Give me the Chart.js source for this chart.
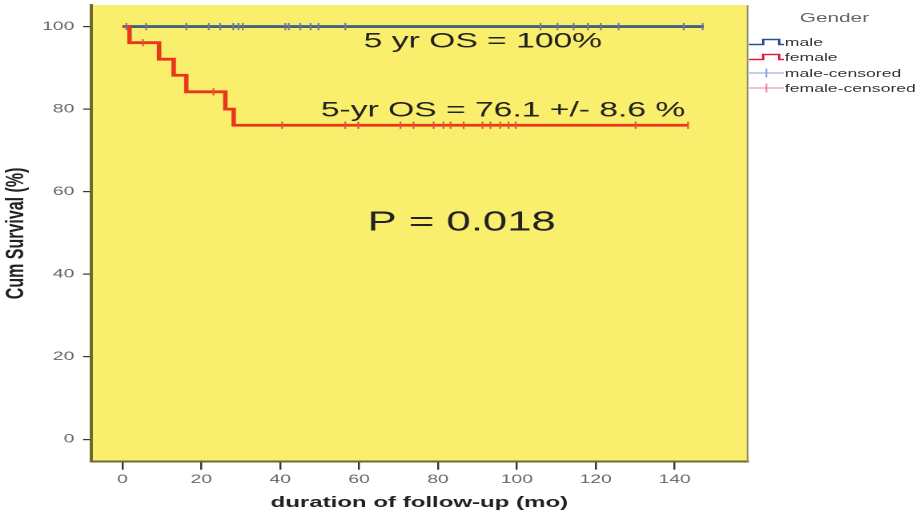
<!DOCTYPE html>
<html><head><meta charset="utf-8">
<script src="https://cdn.jsdelivr.net/npm/chart.js@4.4.1/dist/chart.umd.min.js"></script>
<style>
html,body{margin:0;padding:0;background:#fff;overflow:hidden;width:921px;height:519px}
#wrap{position:absolute;left:0;top:0;width:575.625px;height:519px;transform:scaleX(1.6);transform-origin:0 0}
#chartbox{position:absolute;left:0;top:0;width:575.625px;height:519px}
#legend{position:absolute;left:467.5px;top:0;width:108px;height:110px;font-family:'Liberation Sans',Arial,sans-serif;color:#333}
#legend .title{position:absolute;left:0;width:108px;top:9px;text-align:center;font-size:13px;line-height:18px;color:#666}
#legend .row{position:absolute;left:0;height:14px;line-height:14px;font-size:11px;white-space:nowrap}
#legend svg{position:absolute;left:0;top:0}
#legend .row span{position:absolute;left:23px;top:0}
</style></head><body>
<div id="wrap"><div id="chartbox"><canvas id="c"></canvas></div><div id="legend"></div></div>
<script>
// ---- data ----
const xTicks = [0, 20, 40, 60, 80, 100, 120, 140];
const yTicks = [0, 20, 40, 60, 80, 100];
const maleTimes = [0, 147.4];
const maleSurv = [100, 100];
const femaleTimes = [0, 1.8, 9.3, 13.0, 16.2, 26.1, 28.2, 143.4];
const femaleSurv = [100, 96.1, 92.1, 88.2, 84.2, 80.0, 76.1, 76.1];
const maleCensorTimes = [1.0, 6.0, 16.2, 21.9, 24.8, 28.1, 29.4, 30.5, 41.3, 42.2, 45.1, 47.7, 49.7, 56.5, 106.0, 110.3, 114.4, 118.0, 121.3, 125.8, 142.3, 147.1];
const femaleCensorTimes = [5.2, 23.1, 40.5, 56.5, 59.8, 70.5, 73.8, 78.9, 81.4, 83.2, 86.5, 91.3, 93.3, 95.8, 97.9, 99.7, 130.1, 143.4];
const legendTitle = 'Gender';
const legendLabels = ['male', 'female', 'male-censored', 'female-censored'];
const annotationTexts = ['5 yr OS = 100%', '5-yr OS = 76.1 +/- 8.6 %', 'P = 0.018'];
const xTitle = 'duration of follow-up (mo)';
const yTitle = 'Cum Survival (%)';

// ---- styling ----
const BLUE = '#44607f', RED = '#e8381c', BLUE_C = '#6a7c98', RED_C = '#e8503a';
const FONT = "'Liberation Sans', Arial, sans-serif";

function survAt(times, surv, t) {
  let v = surv[0];
  for (let i = 0; i < times.length; i++) if (times[i] <= t) v = surv[i];
  return v;
}
const pts = (ts, ss) => ts.map((t, i) => ({x: t, y: ss[i]}));
const cens = (ct, ts, ss) => ct.map(t => ({x: t, y: survAt(ts, ss, t)}));

// legend (HTML)
const legendIcons = [
  `<svg width="22.5" height="14"><path d="M0 9.5H9V4.5H19V9.5H22.5" fill="none" stroke="#2b4c9c" stroke-width="1.6"/></svg>`,
  `<svg width="22.5" height="14"><path d="M0 9.5H9V4.5H19V9.5H22.5" fill="none" stroke="#e0213c" stroke-width="1.6"/></svg>`,
  `<svg width="22.5" height="14"><path d="M0 7H22.5M11 2.5V11.5" fill="none" stroke="#8c9ee0" stroke-width="1.1"/></svg>`,
  `<svg width="22.5" height="14"><path d="M0 7H22.5M11 2.5V11.5" fill="none" stroke="#e8899a" stroke-width="1.1"/></svg>`
];
const lg = document.getElementById('legend');
let html = `<div class="title">${legendTitle}</div>`;
const rowTops = [35, 50, 66, 81];
legendLabels.forEach((l, i) => {
  html += `<div class="row" style="top:${rowTops[i]}px">${legendIcons[i]}<span>${l}</span></div>`;
});
lg.innerHTML = html;

const annotPos = [
  {x: 91.4, y: 94.9, size: 21},
  {x: 96.5, y: 78.2, size: 21},
  {x: 86.0, y: 50.6, size: 27.3}
];

const bgPlugin = {
  id: 'bg',
  beforeDraw(chart) {
    const {ctx, chartArea: a} = chart;
    ctx.save();
    ctx.fillStyle = '#f9ef6c';
    ctx.fillRect(a.left, a.top, a.right - a.left, a.bottom - a.top);
    ctx.restore();
  },
  afterDraw(chart) {
    const {ctx, chartArea: a} = chart;
    ctx.save();
    ctx.strokeStyle = '#8c8a6a';
    ctx.lineWidth = 1;
    ctx.beginPath();
    ctx.moveTo(a.right, a.top);
    ctx.lineTo(a.right, a.bottom);
    ctx.stroke();
    ctx.restore();
  }
};
const annotPlugin = {
  id: 'annot',
  afterDatasetsDraw(chart) {
    const {ctx, scales} = chart;
    ctx.save();
    ctx.fillStyle = '#222';
    ctx.textAlign = 'center';
    ctx.textBaseline = 'alphabetic';
    annotationTexts.forEach((t, i) => {
      const p = annotPos[i];
      ctx.font = `${p.size}px ${FONT}`;
      ctx.fillText(t, scales.x.getPixelForValue(p.x), scales.y.getPixelForValue(p.y));
    });
    ctx.restore();
  }
};

const noPad = s => { s.paddingTop = 0; s.paddingBottom = 0; s.paddingLeft = 0; s.paddingRight = 0; };

Chart.defaults.font.family = FONT;
new Chart(document.getElementById('c'), {
  type: 'line',
  data: {
    datasets: [
      {label: 'female', data: pts(femaleTimes, femaleSurv), stepped: 'before', borderColor: RED, borderWidth: 2.8, pointRadius: 0, fill: false, order: 1},
      {label: 'male', data: pts(maleTimes, maleSurv), stepped: 'before', borderColor: BLUE, borderWidth: 2.8, pointRadius: 0, fill: false, order: 2},
      {label: 'male-censored', data: cens(maleCensorTimes, maleTimes, maleSurv), showLine: false, pointStyle: 'line', rotation: 90, pointRadius: 3.6, borderColor: BLUE_C, pointBorderColor: BLUE_C, pointBorderWidth: 1.1, order: 0},
      {label: 'female-censored', data: cens(femaleCensorTimes, femaleTimes, femaleSurv), showLine: false, pointStyle: 'line', rotation: 90, pointRadius: 3.6, borderColor: RED_C, pointBorderColor: RED_C, pointBorderWidth: 1.1, order: 0}
    ]
  },
  options: {
    responsive: true,
    maintainAspectRatio: false,
    animation: false,
    devicePixelRatio: 2,
    layout: {padding: {left: 0, top: 4, right: 108.75, bottom: 0}},
    plugins: {legend: {display: false}, tooltip: {enabled: false}},
    scales: {
      x: {
        type: 'linear', min: -7.94, max: 158.5,
        afterBuildTicks: s => { s.ticks = xTicks.map(v => ({value: v})); },
        afterFit: s => { s.height = 57.3; noPad(s); },
        grid: {drawOnChartArea: false, drawTicks: true, tickLength: 8, color: '#333', lineWidth: 1.2},
        border: {display: true, color: '#6e6a2c', width: 2},
        ticks: {color: '#666', font: {size: 12}, padding: 3, maxRotation: 0, autoSkip: false},
        title: {display: true, text: xTitle, color: '#222', font: {size: 15, weight: 'bold'}, padding: {top: 0, bottom: 7}}
      },
      y: {
        type: 'linear', min: -5.4, max: 105.2,
        afterBuildTicks: s => { s.ticks = yTicks.map(v => ({value: v})); },
        afterFit: s => { s.width = 56.875; noPad(s); },
        grid: {drawOnChartArea: false, drawTicks: true, tickLength: 5, color: '#333', lineWidth: 1.2},
        border: {display: true, color: '#6e6a2c', width: 2},
        ticks: {color: '#666', font: {size: 12}, padding: 5.5, autoSkip: false},
        title: {display: true, text: yTitle, color: '#222', font: {size: 16, weight: 'bold'}, padding: {top: 0.5, bottom: 0}}
      }
    }
  },
  plugins: [bgPlugin, annotPlugin]
});
</script>
</body></html>
